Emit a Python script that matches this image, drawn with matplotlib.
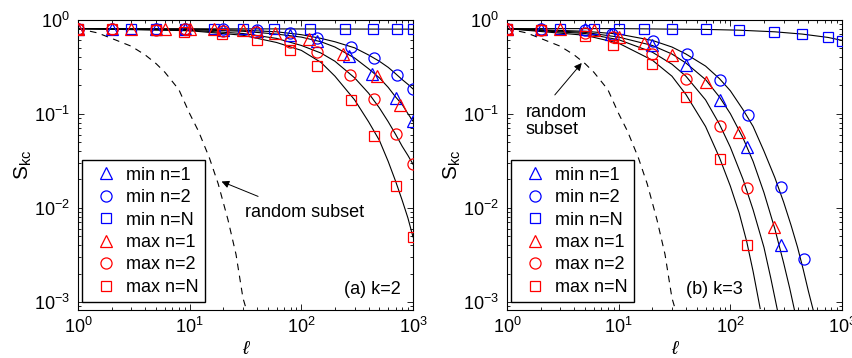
import matplotlib
matplotlib.use("Agg")
import matplotlib.pyplot as plt

plt.rcParams['font.family'] = ['Liberation Sans', 'DejaVu Sans']
plt.rcParams['mathtext.fontset'] = 'custom'
plt.rcParams['mathtext.rm'] = 'Liberation Sans'
plt.rcParams['mathtext.it'] = 'Liberation Sans:italic'
plt.rcParams['mathtext.bf'] = 'Liberation Sans:bold'

BLUE = '#0000ff'
RED = '#ff0000'

labels = ['min n=1', 'min n=2', 'min n=N', 'max n=1', 'max n=2', 'max n=N']

# random subset (same dashed curve in both panels)
rand_l = [1, 1.5, 2, 3, 4, 5, 6, 8, 10, 12, 15, 18, 22, 26, 30, 33]
rand_S = [0.80, 0.72, 0.63, 0.52, 0.42, 0.34, 0.275, 0.18, 0.10, 0.065, 0.034, 0.018, 0.0075, 0.0032, 0.0011, 0.00075]

# ---- panel (a) k=2 : markers ----
a_min1_l = [1, 2, 5, 9, 20, 40, 79, 139, 267, 430, 707, 1000]
a_min1_S = [0.80, 0.80, 0.80, 0.79, 0.78, 0.76, 0.69, 0.587, 0.41, 0.264, 0.145, 0.0836]
a_min2_l = [1, 2, 5, 9, 20, 40, 79, 139, 280, 447, 713, 990]
a_min2_S = [0.80, 0.80, 0.80, 0.79, 0.79, 0.78, 0.72, 0.64, 0.51, 0.39, 0.26, 0.183]
a_minN_l = [1, 3, 5, 9, 16.5, 30, 57, 119, 246, 437, 718, 1000]
a_minN_S = [0.80, 0.80, 0.80, 0.80, 0.80, 0.80, 0.80, 0.80, 0.80, 0.80, 0.80, 0.80]
a_max1_l = [1, 3, 6, 10, 16.5, 30, 58, 118, 237, 475, 769]
a_max1_S = [0.80, 0.80, 0.80, 0.79, 0.79, 0.78, 0.72, 0.62, 0.43, 0.25, 0.125]
a_max2_l = [1, 2, 5, 9, 20, 39.5, 79, 139, 274, 443, 710, 994]
a_max2_S = [0.80, 0.79, 0.78, 0.79, 0.75, 0.73, 0.577, 0.45, 0.26, 0.143, 0.061, 0.029]
a_maxN_l = [1, 2, 5, 8.9, 19.4, 40, 79, 138, 276, 447, 710, 1000]
a_maxN_S = [0.80, 0.79, 0.78, 0.74, 0.70, 0.605, 0.47, 0.32, 0.14, 0.058, 0.017, 0.0049]

# ---- panel (a) : fitted black curves ----
a_flat_l = [1, 1000]
a_flat_S = [0.80, 0.79]
a_fit_l = [1, 10, 30, 60, 100, 150, 200, 300, 400, 500, 600, 700, 800, 900, 1000]
a_fit1_S = [0.80, 0.79, 0.77, 0.74, 0.69, 0.63, 0.58, 0.50, 0.42, 0.36, 0.31, 0.265, 0.23, 0.205, 0.183]
a_fit2_S = [0.80, 0.78, 0.75, 0.70, 0.65, 0.58, 0.51, 0.39, 0.30, 0.24, 0.19, 0.15, 0.125, 0.10, 0.083]
a_fit3_S = [0.80, 0.77, 0.71, 0.63, 0.53, 0.44, 0.36, 0.24, 0.165, 0.115, 0.082, 0.06, 0.045, 0.036, 0.029]
a_fit4_S = [0.80, 0.76, 0.68, 0.57, 0.47, 0.35, 0.25, 0.14, 0.082, 0.052, 0.031, 0.019, 0.012, 0.0078, 0.0049]

# ---- panel (b) k=3 : markers ----
b_min1_l = [1, 2, 5, 8.5, 20, 40, 80, 142, 282]
b_min1_S = [0.80, 0.80, 0.79, 0.70, 0.53, 0.33, 0.14, 0.0446, 0.0040]
b_min2_l = [1, 2, 5, 8.7, 20.5, 40.6, 81.5, 143, 282, 457]
b_min2_S = [0.80, 0.79, 0.77, 0.71, 0.587, 0.425, 0.228, 0.097, 0.0168, 0.00285]
b_minN_l = [1, 3, 6, 10, 17, 30, 61, 119, 245, 440, 755, 1000]
b_minN_S = [0.80, 0.80, 0.80, 0.80, 0.80, 0.79, 0.787, 0.774, 0.742, 0.70, 0.647, 0.596]
b_max1_l = [1, 3, 6, 10, 16.7, 30, 60, 120, 248]
b_max1_S = [0.80, 0.80, 0.765, 0.657, 0.56, 0.415, 0.219, 0.0645, 0.0063]
b_max2_l = [1, 2, 5, 8.9, 20, 40, 81, 142]
b_max2_S = [0.80, 0.78, 0.72, 0.65, 0.43, 0.234, 0.074, 0.0163]
b_maxN_l = [1, 2, 5, 8.9, 20, 40, 80, 140]
b_maxN_S = [0.80, 0.77, 0.67, 0.54, 0.337, 0.15, 0.0328, 0.00403]

# ---- panel (b) : fitted black curves ----
b_flat_l = [1, 10, 30, 60, 120, 250, 440, 750, 1000]
b_flat_S = [0.80, 0.80, 0.79, 0.785, 0.77, 0.74, 0.70, 0.645, 0.60]
b_fit1_l = [1, 5, 10, 20, 30, 40, 60, 80, 100, 130, 160, 200, 250, 300, 350, 400, 450, 500, 555]
b_fit1_S = [0.80, 0.75, 0.70, 0.60, 0.51, 0.43, 0.32, 0.235, 0.175, 0.11, 0.073, 0.04, 0.021, 0.0115, 0.0065, 0.0038, 0.0022, 0.0013, 0.0008]
b_fit2_l = [1, 5, 10, 20, 30, 40, 60, 80, 100, 130, 160, 200, 250, 300, 340, 377]
b_fit2_S = [0.80, 0.73, 0.65, 0.53, 0.43, 0.345, 0.23, 0.15, 0.10, 0.055, 0.031, 0.0145, 0.006, 0.0026, 0.0014, 0.0008]
b_fit3_l = [1, 5, 10, 20, 30, 40, 60, 80, 100, 130, 160, 200, 230, 265]
b_fit3_S = [0.80, 0.71, 0.61, 0.45, 0.335, 0.25, 0.14, 0.077, 0.044, 0.02, 0.0095, 0.0038, 0.0018, 0.0008]
b_fit4_l = [1, 5, 10, 20, 30, 40, 60, 80, 100, 120, 140, 160, 185]
b_fit4_S = [0.80, 0.68, 0.56, 0.37, 0.25, 0.16, 0.073, 0.034, 0.017, 0.0088, 0.0044, 0.0021, 0.00085]

styles = [('^', BLUE, 9), ('o', BLUE, 8), ('s', BLUE, 7),
          ('^', RED, 9), ('o', RED, 8), ('s', RED, 7)]

FS = 13


def panel(ax, fits, marks):
    for fl, fs in fits:
        ax.plot(fl, fs, '-', color='k', lw=0.8, zorder=2)
    ax.plot(rand_l, rand_S, color='k', lw=0.8, dashes=(6, 5), zorder=2)
    for (ml, ms), (mk, col, sz), lab in zip(marks, styles, labels):
        ax.plot(ml, ms, linestyle='none', marker=mk, ms=sz, mfc='none',
                mec=col, mew=0.9, label=lab, zorder=3)
    ax.set_xscale('log')
    ax.set_yscale('log')
    ax.set_xlim(1, 1000)
    ax.set_ylim(8.2e-4, 1)
    ax.tick_params(which='both', direction='in', top=True, right=True,
                   labelsize=FS, width=0.6)
    ax.tick_params(which='major', length=4.5)
    ax.tick_params(which='minor', length=2.5)
    ax.tick_params(axis='x', pad=5)
    ax.tick_params(axis='y', pad=6)
    for sp in ax.spines.values():
        sp.set_linewidth(0.8)
    ax.set_ylabel(r'S$_{\rm kc}$', fontsize=15, labelpad=0)
    ax.set_xlabel('\u2113', fontsize=14, fontstyle='italic', labelpad=3)
    leg = ax.legend(loc='lower left', bbox_to_anchor=(0.012, 0.027),
                    borderaxespad=0, fontsize=FS, numpoints=1,
                    handlelength=2.0, handletextpad=0.1, borderpad=0.35,
                    labelspacing=0.3, fancybox=False, framealpha=1,
                    edgecolor='k')
    leg.get_frame().set_linewidth(1.0)


fig = plt.figure(figsize=(8.53, 3.58), dpi=100)
ax1 = fig.add_axes([78 / 853, 48 / 358, 335 / 853, 290.5 / 358])
ax2 = fig.add_axes([507 / 853, 48 / 358, 335 / 853, 290.5 / 358])

panel(ax1,
      [(a_flat_l, a_flat_S), (a_fit_l, a_fit1_S), (a_fit_l, a_fit2_S),
       (a_fit_l, a_fit3_S), (a_fit_l, a_fit4_S)],
      [(a_min1_l, a_min1_S), (a_min2_l, a_min2_S), (a_minN_l, a_minN_S),
       (a_max1_l, a_max1_S), (a_max2_l, a_max2_S), (a_maxN_l, a_maxN_S)])
panel(ax2,
      [(b_flat_l, b_flat_S), (b_fit1_l, b_fit1_S), (b_fit2_l, b_fit2_S),
       (b_fit3_l, b_fit3_S), (b_fit4_l, b_fit4_S)],
      [(b_min1_l, b_min1_S), (b_min2_l, b_min2_S), (b_minN_l, b_minN_S),
       (b_max1_l, b_max1_S), (b_max2_l, b_max2_S), (b_maxN_l, b_maxN_S)])

ax1.text(0.795, 0.069, '(a) k=2', transform=ax1.transAxes, fontsize=FS,
         ha='left', va='center')
ax2.text(0.535, 0.071, '(b) k=3', transform=ax2.transAxes, fontsize=FS,
         ha='left', va='center')

ax1.text(0.4985, 0.336, 'random subset', transform=ax1.transAxes,
         fontsize=FS, ha='left', va='center')
ax1.annotate('', xy=(19.3, 0.019), xytext=(41, 0.0132),
             arrowprops=dict(arrowstyle='-|>', color='k', lw=0.7,
                             mutation_scale=11, shrinkA=0, shrinkB=0))
ax2.text(0.0558, 0.652, 'random\nsubset', transform=ax2.transAxes,
         fontsize=FS, ha='left', va='center', linespacing=1.0)
ax2.annotate('', xy=(4.67, 0.345), xytext=(2.68, 0.158),
             arrowprops=dict(arrowstyle='-|>', color='k', lw=0.7,
                             mutation_scale=11, shrinkA=0, shrinkB=0))

fig.savefig('out.png', dpi=100)
